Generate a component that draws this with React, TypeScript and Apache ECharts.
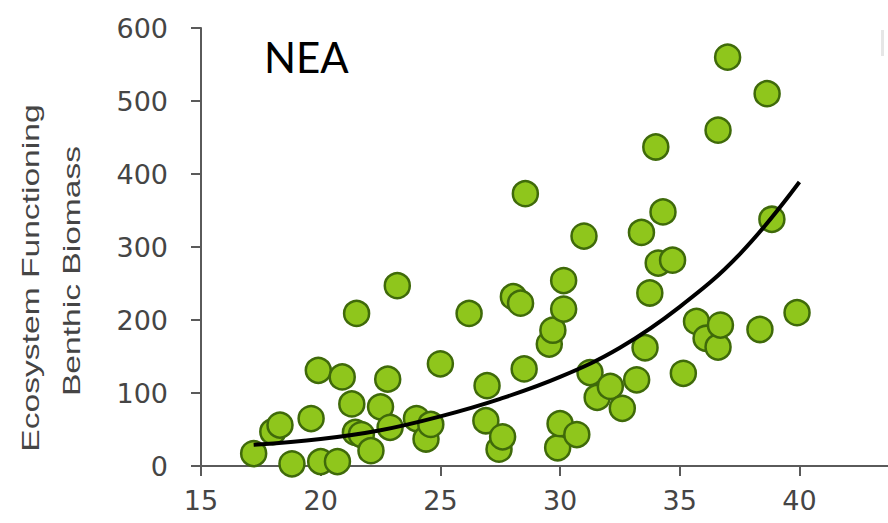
import React, { useEffect, useRef } from "react";
import * as echarts from "echarts";

// Scatter observations: [temperature-like x, benthic biomass]
const pointX = [
  17.2, 18.0, 18.3, 18.8, 19.6, 19.9, 20.0, 20.7, 20.9, 21.3, 21.5, 21.45, 21.7, 22.1, 22.5, 22.8,
  22.9, 23.2, 24.0, 24.4, 24.6, 25.0, 26.2, 26.9, 26.95, 27.45, 27.6, 28.05, 28.35, 28.5, 28.55,
  29.55, 29.7, 29.9, 30.0, 30.15, 30.15, 30.7, 31.0, 31.25, 31.55, 32.1, 32.6, 33.2, 33.4, 33.55,
  33.75, 34.0, 34.1, 34.3, 34.7, 35.15, 35.7, 36.1, 36.6, 36.6, 36.7, 37.0, 38.35, 38.65, 38.85, 39.9,
];
const pointY = [
  17, 47, 56, 3, 65, 131, 6, 6, 122, 85, 209, 46, 43, 21, 81, 119,
  53, 247, 65, 37, 57, 140, 209, 62, 110, 23, 40, 232, 223, 133, 373,
  167, 186, 25, 58, 254, 215, 43, 315, 128, 94, 109, 79, 118, 320, 162,
  237, 437, 278, 348, 282, 127, 198, 175, 460, 163, 193, 560, 187, 510, 338, 210,
];

// Trend curve
const trendX = [17.2, 20, 22.5, 25, 27.5, 30, 32.5, 35, 37.5, 40];
const trendY = [29, 37, 49, 68, 92, 122, 162, 218, 290, 389];

const xTicks = [15, 20, 25, 30, 35, 40];
const titleText = "NEA";
const yNameLine1 = "Ecosystem Functioning";
const yNameLine2 = "Benthic Biomass";

export default function App() {
  const ref = useRef<HTMLDivElement>(null);

  useEffect(() => {
    if (!ref.current) return;
    const chart = echarts.init(ref.current, null, { renderer: "svg" });
    const scatterData = pointX.map((x, i) => [x, pointY[i]]);
    const trendData = trendX.map((x, i) => [x, trendY[i]]);
    const axisColor = "#5a5a5a";
    const labelColor = "#454545";

    chart.setOption({
      animation: false,
      backgroundColor: "#ffffff",
      grid: { left: 201, right: 0, top: 28, bottom: 57, containLabel: false },
      xAxis: {
        type: "value",
        min: 15,
        max: 43.7,
        interval: 5,
        axisLine: { show: true, onZero: true, lineStyle: { color: axisColor, width: 2 } },
        axisTick: { show: true, length: 10, customValues: xTicks, lineStyle: { color: axisColor, width: 2 } },
        axisLabel: {
          customValues: xTicks,
          margin: 21,
          color: labelColor,
          fontFamily: "DejaVu Sans",
          fontSize: 27,
        },
        splitLine: { show: false },
      },
      yAxis: {
        type: "value",
        min: 0,
        max: 600,
        interval: 100,
        axisLine: { show: true, lineStyle: { color: axisColor, width: 2 } },
        axisTick: { show: true, length: 10, lineStyle: { color: axisColor, width: 2 } },
        axisLabel: {
          margin: 33,
          color: labelColor,
          fontFamily: "DejaVu Sans",
          fontSize: 27,
        },
        splitLine: { show: false },
      },
      graphic: [
        {
          type: "text",
          x: 264,
          y: 57,
          style: {
            text: titleText,
            fill: "#000000",
            font: "42px Lato",
            textAlign: "left",
            textVerticalAlign: "middle",
          },
        },
        {
          type: "text",
          x: 31,
          y: 278,
          rotation: Math.PI / 2,
          scaleX: 1.4,
          style: {
            text: yNameLine1,
            fill: labelColor,
            font: "24px 'Liberation Sans'",
            textAlign: "center",
            textVerticalAlign: "middle",
          },
        },
        {
          type: "text",
          x: 72,
          y: 271,
          rotation: Math.PI / 2,
          scaleX: 1.4,
          style: {
            text: yNameLine2,
            fill: labelColor,
            font: "24px 'Liberation Sans'",
            textAlign: "center",
            textVerticalAlign: "middle",
          },
        },
        {
          type: "rect",
          shape: { x: 881, y: 30, width: 3, height: 26 },
          style: { fill: "#e6e6e6" },
        },
      ],
      series: [
        {
          type: "scatter",
          data: scatterData,
          symbol: "circle",
          symbolSize: 25,
          itemStyle: { color: "#8fc61c", borderColor: "#3f6a0a", borderWidth: 2.5, opacity: 1 },
          z: 3,
        },
        {
          type: "line",
          data: trendData,
          smooth: 0.4,
          showSymbol: false,
          symbol: "none",
          lineStyle: { color: "#000000", width: 4 },
          z: 4,
        },
      ],
    });

    return () => chart.dispose();
  }, []);

  return (
    <div
      ref={ref}
      style={{ position: "fixed", left: 0, top: 0, width: 888, height: 523 }}
    />
  );
}
